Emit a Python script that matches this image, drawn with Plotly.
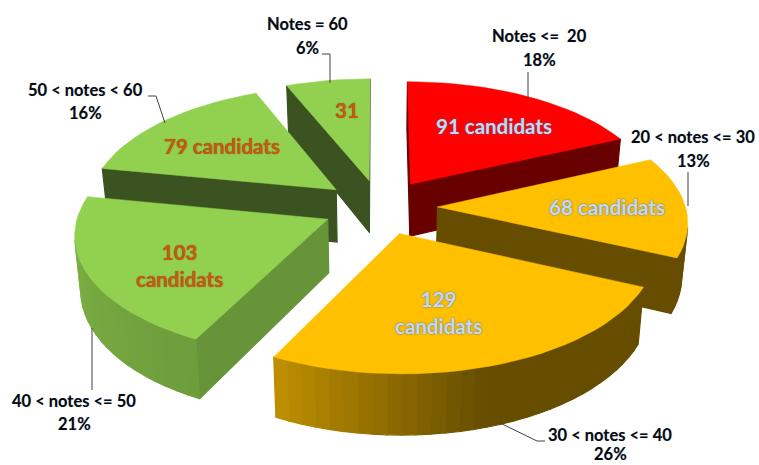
import numpy as np
import plotly.graph_objects as go

# ---- data ----
categories = ["Notes <=  20", "20 < notes <= 30", "30 < notes <= 40",
              "40 < notes <= 50", "50 < notes < 60", "Notes = 60"]
candidates = [91, 68, 129, 103, 79, 31]
percent_labels = ["18%", "13%", "26%", "21%", "16%", "6%"]
value_labels = ["91 candidats", "68 candidats", "129<br>candidats",
                "103<br>candidats", "79 candidats", "31"]
top_colors = ["#ff0000", "#ffc000", "#ffc000", "#92d050", "#92d050", "#92d050"]
cut_shade = [0.41, 0.40, 0.40, 0.71, 0.40, 0.40]
text_colors = ["#c6d9f1", "#c6d9f1", "#c6d9f1", "#c55a11", "#c55a11", "#c55a11"]
draw_order = [5, 4, 0, 3, 1, 2]

# ---- layout of the pseudo-3D pie (pixels on a 759x465 canvas) ----
W, H = 759, 465
CX, CY, S = 380.0, 207.0, 248.0
EXPLODE, PERSP, SQUASH, DEPTH, BOTTOM_X = 0.232, 0.11, 0.478, 53.0, 0.98
STEP = 3.0

label_pos = [(539, 36, 60), (693, 137, 161), (610, 435, 454),
             (74, 401, 424), (85, 90, 113), (307, 24, 48)]
value_pos = [(494, 126), (607, 207), (438, 312), (179, 265), (222, 146), (347, 110)]
leaders = [[(528, 72), (528, 98)],
           [(688, 172), (688, 206)],
           [(500, 423), (537, 441), (545, 441)],
           [(92, 328), (92, 390)],
           [(148, 96), (156, 96), (165, 123)],
           [(322, 54), (330, 54), (330, 83)]]


def project(x, y, bottom=False):
    k = 1.0 / (1.0 + PERSP * y)
    sx = S * x * k
    sy = CY - S * SQUASH * y * k
    if bottom:
        return CX + BOTTOM_X * sx, sy + DEPTH * k
    return CX + sx, sy


def shade(hex_color, f):
    r, g, b = (int(hex_color[i:i + 2], 16) for i in (1, 3, 5))
    return f"rgb({r * f:.0f},{g * f:.0f},{b * f:.0f})"


def area(pts):
    a = 0.0
    for (x0, y0), (x1, y1) in zip(pts, pts[1:] + pts[:1]):
        a += x0 * y1 - x1 * y0
    return a


def arc_factor(theta):
    return float(np.interp(theta, [163, 207, 270], [0.40, 0.75, 0.86]))


fig = go.Figure()


def add_poly(pts, color, lw=1.2):
    fig.add_trace(go.Scatter(
        x=[p[0] for p in pts] + [pts[0][0]], y=[p[1] for p in pts] + [pts[0][1]],
        mode="lines", fill="toself", fillcolor=color,
        line=dict(color=color, width=lw), hoverinfo="skip", showlegend=False))


total = sum(candidates)
edges = np.concatenate([[0], np.cumsum(candidates)]) / total * 360.0

for i in draw_order:
    t0, t1 = edges[i], edges[i + 1]
    mid = np.radians((t0 + t1) / 2)
    ox, oy = EXPLODE * np.sin(mid), EXPLODE * np.cos(mid)
    n = max(2, int(np.ceil((t1 - t0) / STEP)) + 1)
    th = np.linspace(t0, t1, n)
    rim = [(ox + np.sin(np.radians(t)), oy + np.cos(np.radians(t))) for t in th]
    apex = (ox, oy)
    base = top_colors[i]

    def side(a, b, color):
        pts = [project(*a), project(*b), project(*b, bottom=True), project(*a, bottom=True)]
        if area(pts) < 0:
            add_poly(pts, color)

    side(apex, rim[0], shade(base, cut_shade[i]))
    side(rim[-1], apex, shade(base, cut_shade[i]))
    for j in range(n - 1):
        side(rim[j], rim[j + 1], shade(base, arc_factor((th[j] + th[j + 1]) / 2)))
    add_poly([project(*apex)] + [project(*r) for r in rim], base, lw=0.5)

shapes = []
for line in leaders:
    path = "M " + " L ".join(f"{x} {y}" for x, y in line)
    shapes.append(dict(type="path", path=path, xref="x", yref="y",
                       line=dict(color="#404040", width=1)))

annotations = []
for cat, pct, (x, y1, y2) in zip(categories, percent_labels, label_pos):
    for txt, y in ((cat, y1), (pct, y2)):
        annotations.append(dict(
            x=x, y=y, xref="x", yref="y", text=f"<b>{txt.replace('<', '&lt;')}</b>",
            showarrow=False, xanchor="center", yanchor="middle",
            font=dict(family="Lato", size=16.5, color="#0a0a0a",
                      shadow="0px 0px 1px #9db8e0")))
for txt, col, (x, y) in zip(value_labels, text_colors, value_pos):
    blue = col == "#c6d9f1"
    annotations.append(dict(
        x=x, y=y, xref="x", yref="y", text=f"<b>{txt}</b>", showarrow=False,
        xanchor="center", yanchor="middle",
        font=dict(family="Lato", size=20.5, color=col,
                  shadow="0px 0px 2px #44699a" if blue else "0px 0px 1px #7a4a10")))

fig.update_layout(
    width=W, height=H, margin=dict(l=0, r=0, t=0, b=0),
    paper_bgcolor="white", plot_bgcolor="white", showlegend=False,
    xaxis=dict(range=[0, W], visible=False, fixedrange=True),
    yaxis=dict(range=[H, 0], visible=False, fixedrange=True),
    shapes=shapes, annotations=annotations)
fig.write_html("out.html", config=dict(displayModeBar=False),
               post_script="document.body.style.margin='0';document.body.style.overflow='hidden';")
